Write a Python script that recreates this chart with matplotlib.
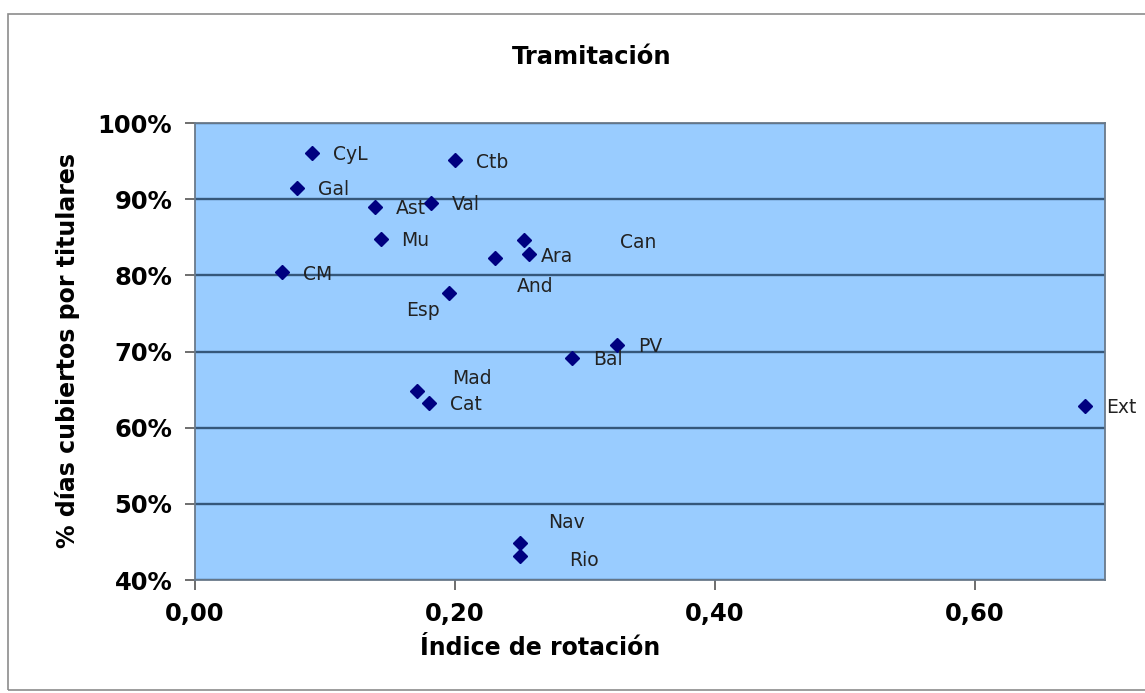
import matplotlib
matplotlib.use("Agg")
import matplotlib.pyplot as plt
from matplotlib.patches import Rectangle
from matplotlib.ticker import FuncFormatter, MultipleLocator

# data
regions = ["CyL", "Ctb", "Gal", "Ast", "Val", "Mu", "CM", "Can", "Ara", "And",
           "Esp", "PV", "Bal", "Mad", "Cat", "Nav", "Rio", "Ext"]
rotation = [0.090, 0.200, 0.079, 0.139, 0.182, 0.143, 0.067, 0.253, 0.257, 0.231,
            0.196, 0.325, 0.290, 0.171, 0.180, 0.250, 0.250, 0.685]
coverage = [96.1, 95.1, 91.5, 89.0, 89.5, 84.8, 80.4, 84.6, 82.8, 82.3,
            77.7, 70.9, 69.2, 64.8, 63.3, 44.9, 43.2, 62.9]

# label offsets (pixels, x right / y down) as placed in the original
label_offsets = {
    "Can": (96, 2), "Ara": (12, 2), "And": (22, 29), "Esp": (-43, 18),
    "Mad": (35, -13), "Nav": (28, -20), "Rio": (49, 5),
}

W, H = 1145, 693
fig = plt.figure(figsize=(W / 100, H / 100), dpi=100)
fig.patch.set_facecolor("white")

# outer chart border (right side runs off the image)
fig.patches.append(Rectangle((8 / W, 1 - 690 / H), 1.2, (690 - 14) / H,
                             transform=fig.transFigure, fill=False,
                             edgecolor="#8c8c8c", linewidth=1.2))

ax = fig.add_axes([194.5 / W, 1 - 580 / H, (1105 - 194.5) / W, (580 - 123) / H])
ax.set_facecolor("#99ccff")

ax.plot(rotation, coverage, linestyle="none", marker="D", markersize=6.8,
        color="#000080", zorder=3)

for name, x, y in zip(regions, rotation, coverage):
    dx, dy = label_offsets.get(name, (21, 2))
    ax.annotate(name, (x, y), xytext=(dx * 0.72, -dy * 0.72),
                textcoords="offset points", ha="left", va="center",
                fontsize=13.5, color="#222222", zorder=4, annotation_clip=False)

ax.set_xlim(0, 0.70)
ax.set_ylim(40, 100)
ax.xaxis.set_major_locator(MultipleLocator(0.2))
ax.yaxis.set_major_locator(MultipleLocator(10))
ax.xaxis.set_major_formatter(FuncFormatter(lambda v, p: f"{v:.2f}".replace(".", ",")))
ax.yaxis.set_major_formatter(FuncFormatter(lambda v, p: f"{v:.0f}%"))

ax.grid(axis="y", color="#35577a", linewidth=1.7)
ax.set_axisbelow(True)
for s in ax.spines.values():
    s.set_color("#6a7a8a")
    s.set_linewidth(1.3)

ax.tick_params(direction="out", length=7, width=1.2, color="#555555",
               labelsize=17.5, pad=9)
for lbl in ax.get_xticklabels() + ax.get_yticklabels():
    lbl.set_fontweight("bold")

fig.text(592 / W, 1 - 57 / H, "Tramitación", ha="center", va="center",
         fontsize=17.5, fontweight="bold")
fig.text(540 / W, 1 - 648 / H, "Índice de rotación", ha="center", va="center",
         fontsize=17, fontweight="bold")
fig.text(68 / W, 1 - 350 / H, "% días cubiertos por titulares", ha="center",
         va="center", rotation=90, fontsize=17, fontweight="bold")

fig.savefig("out.png", dpi=100)
